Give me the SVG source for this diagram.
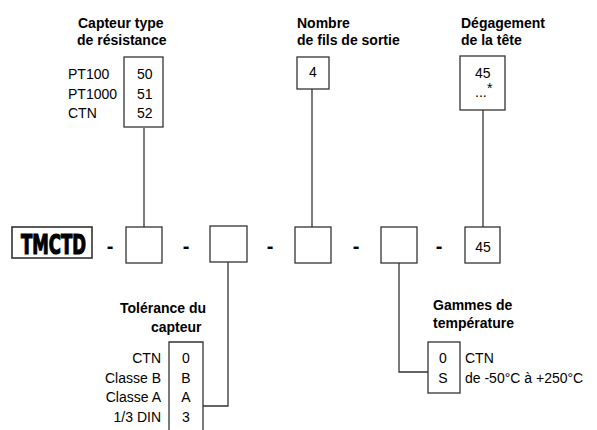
<svg xmlns="http://www.w3.org/2000/svg" width="597" height="430" viewBox="0 0 597 430">
<style>
text{font-family:"Liberation Sans",Arial,sans-serif;font-size:14px;fill:#000}
.h{font-weight:bold}
.d{font-weight:bold;font-size:20px;text-anchor:middle}
.m{text-anchor:middle}
.r{text-anchor:end}
.box{fill:#fff;stroke:#333;stroke-width:1.3}
.ln{fill:none;stroke:#333;stroke-width:1.3}
.logo{font-family:"Liberation Sans Narrow","DejaVu Sans Condensed",sans-serif;font-weight:bold;font-size:20px;stroke:#000;stroke-width:0.9}
</style>
<rect width="597" height="430" fill="#fff"/>
<g id="connectors">
<polyline class="ln" points="144,128 144,227"/>
<polyline class="ln" points="312,89 312,227"/>
<polyline class="ln" points="483,110 483,227"/>
<polyline class="ln" points="228,262 228,406 203,406"/>
<polyline class="ln" points="399,263 399,372 428,372"/>
</g>
<g id="logo">
<rect x="12" y="227" width="80" height="31" fill="#fff" stroke="#333" stroke-width="1.6"/>
<text class="logo" transform="translate(21,254) scale(1,1.3)" x="0" y="0" textLength="65" lengthAdjust="spacingAndGlyphs">TMCTD</text>
</g>
<g id="dashes">
<text class="d" x="110" y="253">-</text>
<text class="d" x="186" y="253">-</text>
<text class="d" x="270" y="253">-</text>
<text class="d" x="356" y="253">-</text>
<text class="d" x="439" y="253">-</text>
</g>
<g id="slot1"><rect class="box" x="126" y="227" width="36" height="36"/></g>
<g id="slot2"><rect class="box" x="210" y="226" width="37" height="36"/></g>
<g id="slot3"><rect class="box" x="295" y="227" width="36" height="36"/></g>
<g id="slot4"><rect class="box" x="381" y="227" width="36" height="36"/></g>
<g id="slot5"><rect class="box" x="465" y="227" width="35" height="36"/><text class="m" x="483" y="252">45</text></g>
<g id="capteur">
<text class="h" x="78" y="28">Capteur type</text>
<text class="h" x="77" y="45">de résistance</text>
<rect class="box" x="124" y="57" width="39" height="70"/>
<text x="68" y="79">PT100</text>
<text x="68" y="98.5">PT1000</text>
<text x="68" y="118">CTN</text>
<text x="137" y="79">50</text>
<text x="137" y="98.5">51</text>
<text x="137" y="118">52</text>
</g>
<g id="fils">
<text class="h" x="297" y="28">Nombre</text>
<text class="h" x="297" y="45">de fils de sortie</text>
<rect class="box" x="297" y="57" width="32" height="32"/>
<text class="m" x="313" y="77">4</text>
</g>
<g id="degagement">
<text class="h" x="461" y="28">Dégagement</text>
<text class="h" x="461" y="45">de la tête</text>
<rect class="box" x="460" y="56" width="45" height="54"/>
<text x="475" y="78">45</text>
<text x="475" y="97" font-size="12">...</text>
<text x="487" y="93" font-size="12">*</text>
</g>
<g id="tolerance">
<text class="h" x="120" y="313">Tolérance du</text>
<text class="h" x="151" y="332">capteur</text>
<polyline class="ln" points="169,440 169,342 203,342 203,440"/>
<text class="r" x="161" y="363">CTN</text>
<text class="r" x="161" y="382.5">Classe B</text>
<text class="r" x="161" y="402">Classe A</text>
<text class="r" x="161" y="421.5">1/3 DIN</text>
<text class="m" x="186" y="363">0</text>
<text class="m" x="186" y="382.5">B</text>
<text class="m" x="186" y="402">A</text>
<text class="m" x="186" y="421.5">3</text>
</g>
<g id="gammes">
<text class="h" x="433" y="310">Gammes de</text>
<text class="h" x="433" y="328">température</text>
<rect class="box" x="428" y="342" width="32" height="51"/>
<text class="m" x="443" y="363">0</text>
<text class="m" x="443" y="383">S</text>
<text x="465" y="363">CTN</text>
<text x="465" y="383">de -50°C à +250°C</text>
</g>
</svg>
